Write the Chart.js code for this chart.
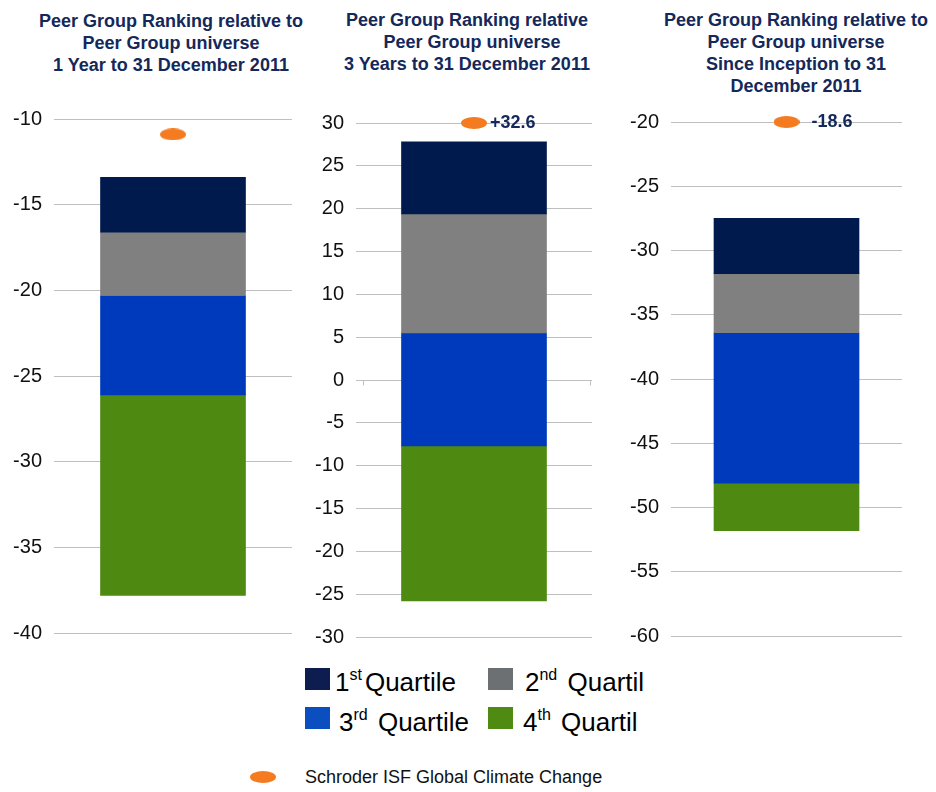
<!DOCTYPE html>
<html>
<head>
<meta charset="utf-8">
<script src="https://cdn.jsdelivr.net/npm/chart.js@4"></script>
<style>
  body { margin: 0; background: #fff; font-family: "Liberation Sans", Arial, sans-serif; }
  #page { position: relative; width: 936px; height: 792px; overflow: hidden; }
  .title { position: absolute; width: 320px; text-align: center; font-weight: bold;
           font-size: 18px; line-height: 22px; color: #14285a; white-space: pre; }
  canvas { position: absolute; }
  .key { position: absolute; font-size: 26px; color: #000; white-space: nowrap; }
  .key sup { font-size: 16px; vertical-align: 11px; line-height: 0; margin-right: 3px; }
  .swatch { position: absolute; width: 25px; height: 22px; }
  #fundKey { position: absolute; left: 305px; top: 767px; font-size: 18px; color: #111; }
  #fundDot { position: absolute; left: 250px; top: 771px; width: 26px; height: 12px;
             border-radius: 50%; background: #f47b20; }
</style>
</head>
<body>
<div id="page">
  <div class="title" style="left:11px;top:10px">Peer Group Ranking relative to
Peer Group universe
1 Year to 31 December 2011</div>
  <div class="title" style="left:307px;top:9px">Peer Group Ranking relative
  Peer Group universe
3 Years to 31 December 2011</div>
  <div class="title" style="left:636px;top:9px">Peer Group Ranking relative to
Peer Group universe
Since Inception to 31
December 2011</div>

  <canvas id="oneYear" width="300" height="550" style="left:0;top:100px"></canvas>
  <canvas id="threeYear" width="290" height="550" style="left:310px;top:100px"></canvas>
  <canvas id="inception" width="336" height="550" style="left:600px;top:100px"></canvas>

  <div class="swatch" style="left:305px;top:668px;background:#0d1d4f"></div>
  <div class="key" style="left:335px;top:667px">1<sup>st</sup>Quartile</div>
  <div class="swatch" style="left:488px;top:668px;background:#6d7072"></div>
  <div class="key" style="left:525px;top:667px">2<sup>nd</sup> Quartil</div>
  <div class="swatch" style="left:305px;top:707px;background:#0a4ebf"></div>
  <div class="key" style="left:339px;top:707px">3<sup>rd</sup> Quartile</div>
  <div class="swatch" style="left:488px;top:707px;background:#4f8a12"></div>
  <div class="key" style="left:523px;top:707px">4<sup>th</sup> Quartil</div>

  <div id="fundDot"></div>
  <div id="fundKey">Schroder ISF Global Climate Change</div>
</div>

<script>
// quartile boundaries, top of 1st quartile down to bottom of 4th
const quartiles = ['1st Quartile', '2nd Quartil', '3rd Quartile', '4th Quartil'];
const oneYearBands = [-13.4, -16.6, -20.3, -26.1, -37.8];
const threeYearBands = [27.8, 19.4, 5.5, -7.7, -25.8];
const inceptionBands = [-27.5, -31.8, -36.4, -48.1, -51.8];

// fund result in each period and the text printed beside it
const fundValues = [-10.9, 32.6, -18.6];
const fundLabels = ['', '+32.6', '-18.6'];

// y axis ranges
const axisMins = [-40, -30, -60];
const axisMaxs = [-10, 30, -20];
const axisStep = 5;

const bandColors = ['#001a4e', '#808080', '#003abc', '#4e8a12'];
const fundColor = '#f47b20';

// orange ellipse used as the fund marker
const dot = document.createElement('canvas');
dot.width = 26; dot.height = 12;
const dctx = dot.getContext('2d');
dctx.fillStyle = fundColor;
dctx.beginPath();
dctx.ellipse(13, 6, 13, 6, 0, 0, Math.PI * 2);
dctx.fill();

// prints the fund value next to its marker, and the short ticks on the zero line
const fundLabelPlugin = {
  id: 'fundLabel',
  afterDatasetsDraw(chart, args, opts) {
    const ctx = chart.ctx;
    const y = chart.scales.y;
    const area = chart.chartArea;
    if (opts.zeroTicks && y.min < 0 && y.max > 0) {
      const y0 = Math.round(y.getPixelForValue(0)) + 0.5;
      ctx.save();
      ctx.strokeStyle = '#bfbfbf';
      ctx.lineWidth = 1;
      ctx.beginPath();
      [area.left + 7.5, area.right - 1.5].forEach(x => { ctx.moveTo(x, y0); ctx.lineTo(x, y0 + 5); });
      ctx.stroke();
      ctx.restore();
    }
    if (!opts.text) return;
    const meta = chart.getDatasetMeta(chart.data.datasets.length - 1);
    const pt = meta.data[0];
    ctx.save();
    ctx.font = 'bold 18px "Liberation Sans", Arial, sans-serif';
    ctx.fillStyle = '#14285a';
    ctx.textBaseline = 'middle';
    ctx.fillText(opts.text, pt.x + opts.offset, pt.y);
    ctx.restore();
  }
};

function drawPanel(id, bands, i, yWidth, padding, labelOffset, zeroTicks) {
  const datasets = quartiles.map((q, k) => ({
    type: 'bar',
    label: q,
    data: [[bands[k + 1], bands[k]]],
    backgroundColor: bandColors[k],
    borderWidth: 0,
    borderSkipped: false,
    barThickness: 145,
    grouped: false,
    order: 2
  }));
  datasets.push({
    type: 'line',
    label: 'Schroder ISF Global Climate Change',
    data: [Math.min(fundValues[i], axisMaxs[i])],
    showLine: false,
    pointStyle: dot,
    pointRadius: 7,
    clip: false,
    order: 0
  });

  new Chart(document.getElementById(id).getContext('2d'), {
    data: { labels: [''], datasets },
    plugins: [fundLabelPlugin],
    options: {
      responsive: false,
      animation: false,
      devicePixelRatio: 1,
      layout: { padding },
      plugins: {
        legend: { display: false },
        tooltip: { enabled: false },
        fundLabel: { text: fundLabels[i], offset: labelOffset, zeroTicks }
      },
      scales: {
        x: { display: false },
        y: {
          min: axisMins[i],
          max: axisMaxs[i],
          // fixed axis width; the layout padding alone sets the plot's top and bottom
          afterFit: s => { s.width = yWidth; s.paddingTop = 0; s.paddingBottom = 0; },
          border: { display: false },
          grid: { color: '#bfbfbf', drawTicks: false },
          ticks: {
            stepSize: axisStep,
            padding: 12,
            color: '#111',
            font: { family: '"Liberation Sans", Arial, sans-serif', size: 20 }
          }
        }
      }
    }
  });
}

drawPanel('oneYear', oneYearBands, 0, 54, { top: 19, right: 3, bottom: 17, left: 0 }, 20, false);
drawPanel('threeYear', threeYearBands, 1, 46, { top: 23, right: 4, bottom: 13, left: 0 }, 16, true);
drawPanel('inception', inceptionBands, 2, 71, { top: 22, right: 34, bottom: 14, left: 0 }, 25, false);
</script>
</body>
</html>
